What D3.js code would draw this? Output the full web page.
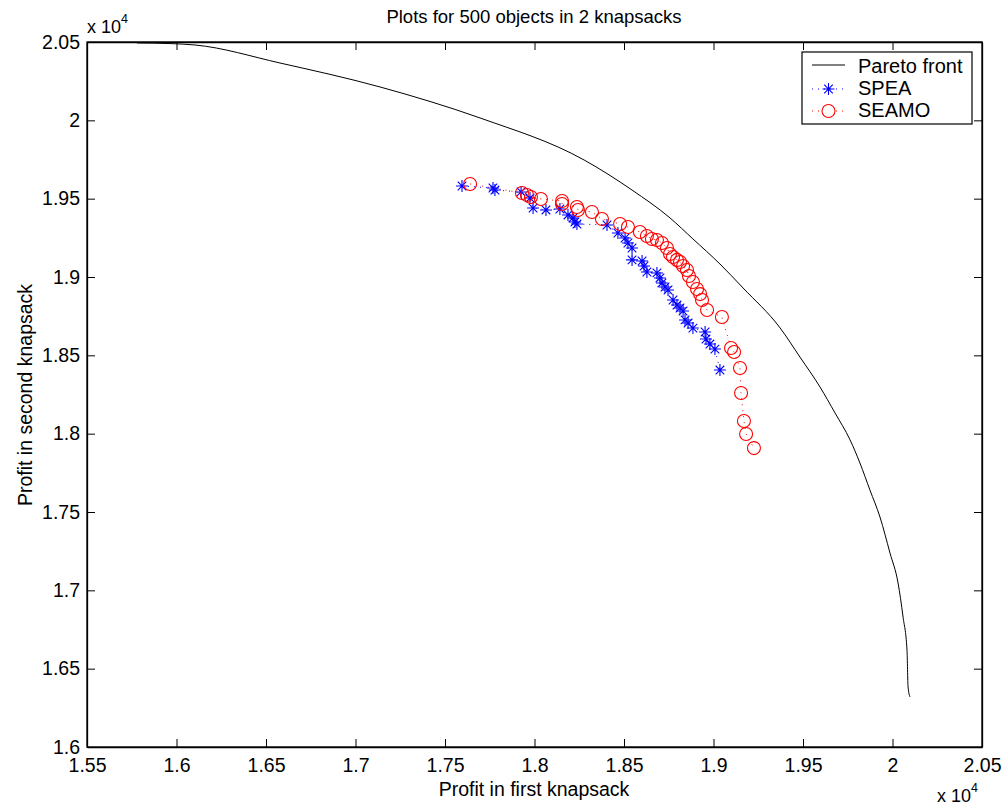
<!DOCTYPE html>
<html>
<head>
<meta charset="utf-8">
<script src="https://cdn.jsdelivr.net/npm/d3@7/dist/d3.min.js"></script>
<style>
  body { margin: 0; background: #fff; }
  svg { display: block; font-family: "Liberation Sans", Arial, Helvetica, sans-serif; }
</style>
</head>
<body>
<div id="chart"></div>
<script>
'use strict';

// values are profits, stored x 10^4 like the axis factor says
var paretoX = [15779, 15964, 16103, 16578, 17137, 17696, 18277, 18545, 18757, 18885,
  19036, 19165, 19372, 19483, 19595, 19679, 19763, 19818, 19874, 19930,
  19986, 20031, 20059, 20081, 20087, 20098];
var paretoY = [20494, 20490, 20481, 20366, 20213, 20015, 19747, 19555, 19377, 19243,
  19083, 18930, 18675, 18489, 18298, 18132, 17960, 17813, 17640, 17468,
  17238, 17047, 16830, 16619, 16383, 16319];

var speaX = [17595, 17768, 17779, 17925, 17975, 17992, 18064, 18142, 18187, 18215,
  18226, 18237, 18405, 18466, 18506, 18522, 18545, 18545, 18601, 18612,
  18628, 18684, 18701, 18712, 18729, 18746, 18774, 18796, 18813, 18830,
  18841, 18858, 18885, 18953, 18958, 18980, 19008, 19036];
var speaY = [19581, 19568, 19555, 19543, 19504, 19440, 19428, 19434, 19396, 19377,
  19351, 19338, 19332, 19281, 19249, 19217, 19185, 19109, 19102, 19070,
  19032, 19026, 18994, 18962, 18936, 18917, 18853, 18821, 18802, 18783,
  18726, 18706, 18674, 18649, 18604, 18572, 18540, 18406];

var seamoX = [17640, 17930, 17958, 17980, 18036, 18154, 18154, 18237, 18243, 18321,
  18377, 18478, 18522, 18589, 18628, 18656, 18684, 18712, 18740, 18757,
  18774, 18796, 18813, 18830, 18852, 18863, 18885, 18908, 18925, 18936,
  18964, 19047, 19098, 19115, 19148, 19154, 19170, 19182, 19226];
var seamoY = [19594, 19536, 19523, 19511, 19498, 19485, 19466, 19447, 19428, 19415,
  19370, 19338, 19319, 19287, 19262, 19243, 19236, 19217, 19185, 19147,
  19128, 19109, 19096, 19070, 19045, 19006, 18968, 18923, 18891, 18853,
  18789, 18745, 18547, 18521, 18419, 18260, 18081, 17998, 17908];

var xTicks = [15500, 16000, 16500, 17000, 17500, 18000, 18500, 19000, 19500, 20000, 20500];
var yTicks = [16000, 16500, 17000, 17500, 18000, 18500, 19000, 19500, 20000, 20500];

var legendNames = ['Pareto front', 'SPEA', 'SEAMO'];

var width = 1005, height = 811;
var plot = {left: 87, top: 42, right: 982, bottom: 747};
var TICK = 8;
var FONT = '"Liberation Sans", Arial, sans-serif';

var svg = d3.select('#chart').append('svg')
  .attr('width', width)
  .attr('height', height);

var x = d3.scaleLinear().domain([15500, 20500]).range([plot.left, plot.right]);
var y = d3.scaleLinear().domain([16000, 20500]).range([plot.bottom, plot.top]);

var fmt = function(d) { return String(+(d / 10000).toFixed(2)); };

// axes: ticks point inward, on all four sides (matlab box)
svg.append('g')
  .attr('class', 'axis')
  .attr('transform', 'translate(0,' + plot.bottom + ')')
  .call(d3.axisBottom(x).tickValues(xTicks).tickFormat(fmt).tickSizeInner(-TICK).tickSizeOuter(0).tickPadding(11));
svg.append('g')
  .attr('class', 'axis')
  .attr('transform', 'translate(0,' + plot.top + ')')
  .call(d3.axisTop(x).tickValues(xTicks).tickFormat('').tickSizeInner(-TICK).tickSizeOuter(0));
svg.append('g')
  .attr('class', 'axis')
  .attr('transform', 'translate(' + plot.left + ',0)')
  .call(d3.axisLeft(y).tickValues(yTicks).tickFormat(fmt).tickSizeInner(-TICK).tickSizeOuter(0).tickPadding(7));
svg.append('g')
  .attr('class', 'axis')
  .attr('transform', 'translate(' + plot.right + ',0)')
  .call(d3.axisRight(y).tickValues(yTicks).tickFormat('').tickSizeInner(-TICK).tickSizeOuter(0));

svg.selectAll('.axis .domain').attr('stroke', '#000').attr('stroke-width', 1.3);
svg.selectAll('.axis .tick line').attr('stroke', '#000').attr('stroke-width', 1);
svg.selectAll('.axis text')
  .attr('fill', '#000')
  .style('font-size', '19.5px')
  .style('font-family', FONT);

// frame box
svg.append('rect')
  .attr('x', plot.left).attr('y', plot.top)
  .attr('width', plot.right - plot.left).attr('height', plot.bottom - plot.top)
  .attr('fill', 'none').attr('stroke', '#000').attr('stroke-width', 1.3);

var line = d3.line()
  .x(function(d) { return x(d[0]); })
  .y(function(d) { return y(d[1]); });

var pareto = d3.zip(paretoX, paretoY);
var spea = d3.zip(speaX, speaY);
var seamo = d3.zip(seamoX, seamoY);

svg.append('path')
  .datum(pareto)
  .attr('d', line.curve(d3.curveMonotoneX))
  .attr('fill', 'none')
  .attr('stroke', '#000')
  .attr('stroke-width', 1);

line.curve(d3.curveLinear);

// dotted connecting lines like ':' in matlab
svg.append('path').datum(spea).attr('d', line)
  .attr('fill', 'none').attr('stroke', '#0000ff').attr('stroke-width', 1)
  .attr('stroke-dasharray', '1,5');
svg.append('path').datum(seamo).attr('d', line)
  .attr('fill', 'none').attr('stroke', '#ff0000').attr('stroke-width', 1)
  .attr('stroke-dasharray', '1,5');

var STAR = 'M-6,0H6M0,-6V6M-4.3,-4.3L4.3,4.3M-4.3,4.3L4.3,-4.3';

svg.append('g').selectAll('path')
  .data(spea).enter().append('path')
  .attr('transform', function(d) { return 'translate(' + x(d[0]) + ',' + y(d[1]) + ')'; })
  .attr('d', STAR)
  .attr('stroke', '#0000ff')
  .attr('stroke-width', 1.1)
  .attr('fill', 'none');

svg.append('g').selectAll('circle')
  .data(seamo).enter().append('circle')
  .attr('cx', function(d) { return x(d[0]); })
  .attr('cy', function(d) { return y(d[1]); })
  .attr('r', 6.5)
  .attr('stroke', '#ff0000')
  .attr('stroke-width', 1.1)
  .attr('fill', 'none');

// legend
var lg = svg.append('g').attr('transform', 'translate(802,52)');
lg.append('rect')
  .attr('width', 170).attr('height', 72)
  .attr('fill', '#fff').attr('stroke', '#000').attr('stroke-width', 1.2);

lg.append('line').attr('x1', 10).attr('x2', 43).attr('y1', 13).attr('y2', 13)
  .attr('stroke', '#000').attr('stroke-width', 1);
lg.append('line').attr('x1', 10).attr('x2', 43).attr('y1', 37).attr('y2', 37)
  .attr('stroke', '#0000ff').attr('stroke-dasharray', '1,5');
lg.append('path').attr('transform', 'translate(26.5,37)').attr('d', STAR)
  .attr('stroke', '#0000ff').attr('stroke-width', 1.1);
lg.append('line').attr('x1', 10).attr('x2', 43).attr('y1', 59).attr('y2', 59)
  .attr('stroke', '#ff0000').attr('stroke-dasharray', '1,5');
lg.append('circle').attr('cx', 26.5).attr('cy', 59).attr('r', 6.5)
  .attr('stroke', '#ff0000').attr('stroke-width', 1.1).attr('fill', '#fff');

lg.selectAll('text.name')
  .data(legendNames).enter().append('text')
  .attr('class', 'name')
  .attr('x', 56)
  .attr('y', function(d, i) { return [21, 43, 65][i]; })
  .style('font-size', '20px')
  .text(function(d) { return d; });

// titles
svg.append('text')
  .attr('x', 534).attr('y', 23)
  .attr('text-anchor', 'middle')
  .style('font-size', '18.5px')
  .text('Plots for 500 objects in 2 knapsacks');

svg.append('text')
  .attr('x', 534).attr('y', 796)
  .attr('text-anchor', 'middle')
  .style('font-size', '19.5px')
  .text('Profit in first knapsack');

svg.append('text')
  .attr('transform', 'translate(32,395) rotate(-90)')
  .attr('text-anchor', 'middle')
  .style('font-size', '19.5px')
  .text('Profit in second knapsack');

// exponent factors "x 10^4"
function expLabel(px, py) {
  var t = svg.append('text').attr('x', px).attr('y', py).style('font-size', '18px');
  t.append('tspan').text('x 10');
  t.append('tspan').attr('dy', -10).style('font-size', '12.5px').text('4');
}
expLabel(87, 33);
expLabel(937, 802);
</script>
</body>
</html>
